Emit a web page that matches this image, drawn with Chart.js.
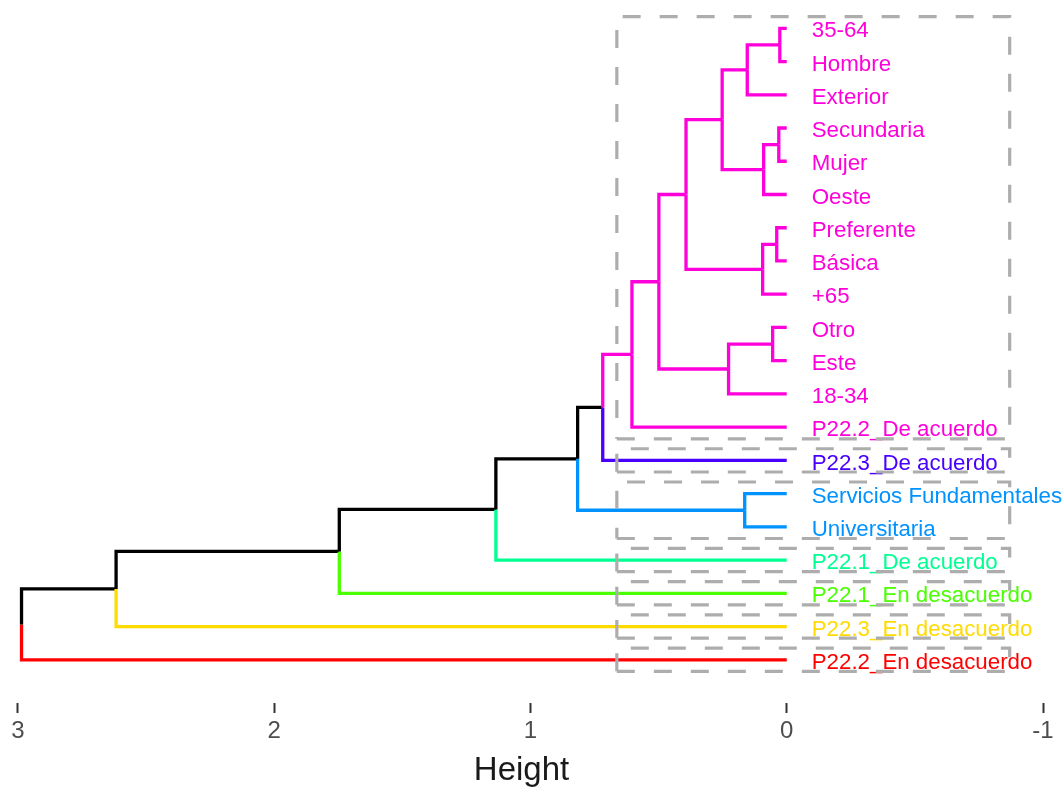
<!DOCTYPE html>
<html>
<head>
<meta charset="utf-8">
<script src="https://cdn.jsdelivr.net/npm/chart.js@4.4.1/dist/chart.umd.min.js"></script>
<style>
  html, body { margin: 0; padding: 0; background: #fff; }
  #wrap { width: 1063px; height: 787px; position: relative; }
</style>
</head>
<body>
<div id="wrap"><canvas id="dendro"></canvas></div>
<script>
// Leaves, top to bottom
const leafLabels = [
  "35-64", "Hombre", "Exterior", "Secundaria", "Mujer", "Oeste",
  "Preferente", "Básica", "+65", "Otro", "Este", "18-34",
  "P22.2_De acuerdo", "P22.3_De acuerdo", "Servicios Fundamentales",
  "Universitaria", "P22.1_De acuerdo", "P22.1_En desacuerdo",
  "P22.3_En desacuerdo", "P22.2_En desacuerdo"
];
const leafCluster = [0,0,0,0,0,0,0,0,0,0,0,0,0, 1, 2,2, 3, 4, 5, 6];
const clusterColors = ["#FF00DB", "#4900FF", "#0092FF", "#00FF92", "#49FF00", "#FFDB00", "#FF0000"];

// merge table (hclust style: -k = leaf k, +k = merge k)
const mergeA = [-1, -4, -7, -10, 1, 2, 3, -15, 4, 5, 10, 11, 12, 13, 14, 15, 16, 17, 18];
const mergeB = [-2, -5, -8, -11, -3, -6, -9, -16, -12, 6, 7, 9, -13, -14, 8, -17, -18, -19, -20];
const mergeHeight = [0.027, 0.031, 0.039, 0.055, 0.154, 0.09, 0.094, 0.164, 0.227, 0.252,
                     0.393, 0.499, 0.604, 0.718, 0.816, 1.135, 1.746, 2.617, 2.986];

const heightTicks = [3, 2, 1, 0, -1];
const rectFrom = 0.663;
const rectTo = -0.87;

// build tree
const nodes = [];
function getRef(r) {
  if (r < 0) { const i = -r - 1; return { y: i, h: 0, leaves: [i] }; }
  return nodes[r - 1];
}
function nodeColor(n) {
  const c = leafCluster[n.leaves[0]];
  return n.leaves.every(l => leafCluster[l] === c) ? clusterColors[c] : "#000000";
}

const datasets = [];
mergeHeight.forEach((h, k) => {
  const a = getRef(mergeA[k]), b = getRef(mergeB[k]);
  const node = { y: (a.y + b.y) / 2, h: h, leaves: a.leaves.concat(b.leaves) };
  nodes.push(node);
  [a, b].forEach(ch => {
    datasets.push({
      data: [{ x: ch.h, y: ch.y }, { x: h, y: ch.y }, { x: h, y: node.y }],
      borderColor: nodeColor(ch),
      borderWidth: 3.3,
      borderJoinStyle: "miter",
      order: 1
    });
  });
});

// dashed cluster boxes
clusterColors.forEach((col, c) => {
  const idx = leafCluster.map((v, i) => v === c ? i : -1).filter(i => i >= 0);
  const top = Math.min(...idx) - 0.35, bot = Math.max(...idx) + 0.35;
  datasets.push({
    data: [
      { x: rectFrom, y: bot }, { x: rectTo, y: bot }, { x: rectTo, y: top },
      { x: rectFrom, y: top }, { x: rectFrom, y: bot }
    ],
    borderColor: "#ADADAD",
    borderWidth: 3.2,
    borderDash: [18, 19],
    borderJoinStyle: "miter",
    order: 0
  });
});

const leafLabelPlugin = {
  id: "leafLabels",
  beforeDatasetsDraw(chart) {
    const { ctx, scales: { x, y } } = chart;
    ctx.save();
    ctx.font = '22.3px "Liberation Sans", Arial, sans-serif';
    ctx.textAlign = "left";
    ctx.textBaseline = "middle";
    leafLabels.forEach((lab, i) => {
      ctx.fillStyle = clusterColors[leafCluster[i]];
      ctx.fillText(lab, x.getPixelForValue(0) + 25, y.getPixelForValue(i) + 3);
    });
    ctx.restore();
  }
};

new Chart(document.getElementById("dendro"), {
  type: "scatter",
  data: { datasets: datasets },
  options: {
    responsive: true,
    maintainAspectRatio: false,
    animation: false,
    showLine: true,
    elements: { point: { radius: 0, hoverRadius: 0 }, line: { tension: 0, fill: false } },
    layout: { padding: { left: 0, right: 20, top: 11.7, bottom: 0 } },
    plugins: { legend: { display: false }, tooltip: { enabled: false } },
    scales: {
      x: {
        type: "linear",
        reverse: true,
        min: -1,
        max: 3.07,
        afterBuildTicks: s => { s.ticks = heightTicks.map(v => ({ value: v })); },
        afterFit: s => { s.height = 84; },
        border: { display: false },
        grid: { drawOnChartArea: false, drawTicks: true, tickLength: 10, tickWidth: 2, tickColor: "#333333" },
        ticks: {
          padding: 4,
          color: "#4D4D4D",
          font: { family: '"Liberation Sans", Arial, sans-serif', size: 24 },
          callback: v => String(v)
        },
        title: {
          display: true,
          text: "Height",
          color: "#1A1A1A",
          font: { family: '"Liberation Sans", Arial, sans-serif', size: 33, lineHeight: 1 },
          padding: { top: 0, bottom: 0 }
        }
      },
      y: {
        type: "linear",
        display: false,
        reverse: true,
        min: -0.5,
        max: 20.3
      }
    }
  },
  plugins: [leafLabelPlugin]
});
</script>
</body>
</html>
